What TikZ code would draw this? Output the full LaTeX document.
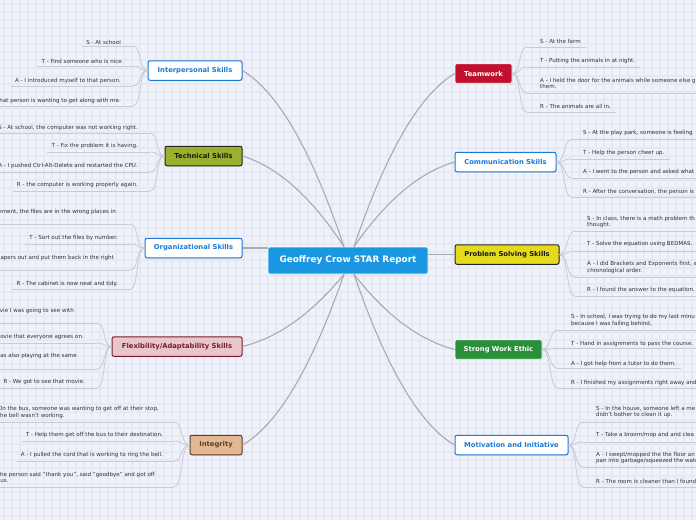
\documentclass[tikz,border=0pt]{standalone}
\usepackage{fontspec}
\setmainfont{DejaVu Sans}
\usetikzlibrary{calc,shadows}
\definecolor{bgc}{HTML}{F0F2F9}
\definecolor{gridc}{HTML}{E6E9F3}
\definecolor{bl}{HTML}{1C7AD6}
\definecolor{cblue}{HTML}{1A96E2}
\definecolor{olive}{HTML}{9CB12B}
\definecolor{pinkf}{HTML}{E8C6CA}
\definecolor{pinkd}{HTML}{7A1C30}
\definecolor{tanf}{HTML}{E3B994}
\definecolor{tand}{HTML}{5A3E2C}
\definecolor{crim}{HTML}{C1102E}
\definecolor{yel}{HTML}{E5DA1E}
\definecolor{grn}{HTML}{2B8F3A}
\definecolor{trunkc}{HTML}{A8AAB4}
\definecolor{twigc}{HTML}{C9CBD3}
\definecolor{leaftxt}{HTML}{333333}
\newcounter{lf}
% left leaf: #1 box, #2 text right x, #3 text centre y, #4 underline y, #5 curve end x, #6 text
\newcommand\leafL[6]{%
  \stepcounter{lf}%
  \node[leaf,anchor=east] (t\thelf) at (#2,#3) {#6};
  \coordinate (u\thelf) at (#5,#4);
  \draw[underl] ($(t\thelf.west |- u\thelf)+(-4,0)$) -- (u\thelf);
  \draw[twig] (u\thelf) .. controls +(9,0) and +(-9,0) .. (#1.west);
}
% right leaf: #1 box, #2 text left x, #3 text centre y, #4 underline y, #5 curve start x, #6 text
\newcommand\leafR[6]{%
  \stepcounter{lf}%
  \node[leaf,anchor=west] (t\thelf) at (#2,#3) {#6};
  \coordinate (u\thelf) at (#5,#4);
  \draw[underl] (u\thelf) -- ($(t\thelf.east |- u\thelf)+(5,0)$);
  \draw[twig] (#1.east) .. controls +(9,0) and +(-9,0) .. (u\thelf);
}
% right leaf cut by the edge
\newcommand\leafRc[6]{%
  \stepcounter{lf}%
  \node[leaf,anchor=west] (t\thelf) at (#2,#3) {#6};
  \coordinate (u\thelf) at (#5,#4);
  \draw[underl] (u\thelf) -- (700,#4);
  \draw[twig] (#1.east) .. controls +(9,0) and +(-9,0) .. (u\thelf);
}
\begin{document}
\begin{tikzpicture}[x=1pt,y=-1pt,
  leaf/.style={inner sep=0pt,align=left,text=leaftxt,font=\fontsize{5.55}{6.7}\selectfont},
  underl/.style={draw=twigc,line width=0.8pt},
  twig/.style={draw=twigc,line width=0.8pt},
  trunk/.style={draw=trunkc,line width=1.1pt},
  box/.style={rounded corners=2pt,minimum height=19.5pt,inner sep=0pt,
    font=\fontsize{6.8}{8}\selectfont\bfseries,
    drop shadow={shadow xshift=0.7pt,shadow yshift=-0.9pt,opacity=0.25}},
  bluebox/.style={box,draw=bl,line width=1pt,fill=white,text=bl},
  techbox/.style={box,draw=black!85,line width=1pt,fill=olive,text=black!90},
  flexbox/.style={box,draw=pinkd,line width=1pt,fill=pinkf,text=pinkd},
  intbox/.style={box,draw=tand,line width=1pt,fill=tanf,text=tand},
  teambox/.style={box,draw=white,line width=0.6pt,fill=crim,text=white},
  psbox/.style={box,draw=black!85,line width=1pt,fill=yel,text=black!90},
  swebox/.style={box,draw=white,line width=0.6pt,fill=grn,text=white},
  centre/.style={rounded corners=2pt,minimum width=160pt,minimum height=27pt,inner sep=0pt,
    fill=cblue,draw=white,line width=0.6pt,text=white,font=\fontsize{8.9}{10}\selectfont\bfseries}
]
\useasboundingbox (0,0) rectangle (696,520);
\clip (0,0) rectangle (696,520);
\fill[bgc] (0,0) rectangle (696,520);
\foreach \g in {4,12,...,700} {
  \draw[gridc,line width=1.4pt] (\g,0) -- (\g,520);
}
\foreach \g in {4,12,...,524} {
  \draw[gridc,line width=1.4pt] (0,\g) -- (696,\g);
}

% central node
\node[centre] (c) at (348,260.5) {Geoffrey Crow STAR Report};
\coordinate (ul) at ($(c.north)+(-4,0)$);
\coordinate (ur) at ($(c.north)+(6,0)$);
\coordinate (ll) at ($(c.south)+(-4,0)$);
\coordinate (lr) at ($(c.south)+(6,0)$);

% branch nodes
\node[bluebox,minimum width=94pt] (ip) at (195,70.5) {Interpersonal Skills};
\node[techbox,minimum width=77pt] (tech) at (203.5,156) {Technical Skills};
\node[bluebox,minimum width=97pt] (org) at (193.5,248) {Organizational Skills};
\node[flexbox,minimum width=130pt] (flex) at (177,346.5) {Flexibility/Adaptability Skills};
\node[intbox,minimum width=52pt] (integ) at (216,445) {Integrity};
\node[teambox,minimum width=57pt] (team) at (483.5,73.5) {Teamwork};
\node[bluebox,minimum width=101pt] (comm) at (505.5,162) {Communication Skills};
\node[psbox,minimum width=104pt] (ps) at (507,254.5) {Problem Solving Skills};
\node[swebox,minimum width=87pt] (swe) at (498.5,349.5) {Strong Work Ethic};
\node[bluebox,minimum width=113pt] (mot) at (511.5,445) {Motivation and Initiative};

% trunk connectors
\draw[trunk] (ul) .. controls +(-31.6,-93.5) and +(36.7,22.2) .. (ip.east);
\draw[trunk] (ul) .. controls +(-31.6,-48.2) and +(36.7,11.5) .. (tech.east);
\draw[trunk] (org.east) -- (org.east -| c.west);
\draw[trunk] (ll) .. controls +(-31.6,38.4) and +(36.7,-9.1) .. (flex.east);
\draw[trunk] (ll) .. controls +(-31.6,90.6) and +(36.7,-21.5) .. (integ.east);
\draw[trunk] (ur) .. controls +(31.3,-92) and +(-36.4,21.9) .. (team.west);
\draw[trunk] (ur) .. controls +(31.3,-45) and +(-36.4,10.7) .. (comm.west);
\draw[trunk] (ps.west -| c.east) -- (ps.west);
\draw[trunk] (lr) .. controls +(31.3,40) and +(-36.4,-9.5) .. (swe.west);
\draw[trunk] (lr) .. controls +(31.3,90.6) and +(-36.4,-21.5) .. (mot.west);

% Interpersonal
\leafL{ip}{121}{42}{46}{133}{S - At school}
\leafL{ip}{122}{61.5}{66}{133}{T - Find someone who is nice}
\leafL{ip}{121}{80.5}{86}{133}{A - I introduced myself to that person.}
\leafL{ip}{121}{100.5}{106}{133}{R - That person is wanting to get along with me.}
% Technical
\leafL{tech}{138}{127.5}{133}{150}{S - At school, the computer was not working right.}
\leafL{tech}{138}{146}{152}{150}{T - Fix the problem it is having.}
\leafL{tech}{138}{166}{172}{150}{A - I pushed Ctrl-Alt-Delete and restarted the CPU.}
\leafL{tech}{138}{185}{191}{150}{R - the computer is working properly again.}
% Organizational
\leafL{org}{116}{212}{224}{130}{ement, the files are in the wrong places in}
\leafL{org}{118}{238}{244}{130}{T - Sort out the files by number.}
\leafL{org}{114}{258}{270}{130}{apers out and put them back in the right}
\leafL{org}{118}{284}{289.5}{130}{R - The cabinet is now neat and tidy.}
% Flexibility
\leafL{flex}{74}{311}{323}{97}{ovie I was going to see with}
\leafL{flex}{84}{337}{343}{97}{movie that everyone agrees on.}
\leafL{flex}{77}{356}{369}{97}{as also playing at the same}
\leafL{flex}{85}{382}{388}{97}{R - We got to see that movie.}
% Integrity
\leafL{integ}{159}{412.5}{422}{174}{On the bus, someone was wanting to get off at their stop,\\the bell wasn't working.}
\leafL{integ}{163}{435}{441}{174}{T - Help them get off the bus to their destination.}
\leafL{integ}{163}{455}{461}{174}{A - I pulled the cord that is working to ring the bell.}
\leafL{integ}{155}{477.5}{487}{174}{The person said "thank you", said "goodbye" and got off\\bus.}

% Teamwork
\leafR{team}{540}{41}{47}{527}{S - At the farm}
\leafR{team}{540}{61}{67}{527}{T - Putting the animals in at night.}
\leafRc{team}{540}{83.3}{93}{527}{A - I held the door for the animals while someone else g\\them.}
\leafR{team}{540}{106}{112}{527}{R - The animals are all in.}
% Communication
\leafRc{comm}{583}{133}{139.5}{572}{S - At the play park, someone is feeling}
\leafR{comm}{583}{153}{159}{572}{T - Help the person cheer up.}
\leafRc{comm}{583}{172}{178}{572}{A - I went to the person and asked what}
\leafRc{comm}{583}{191.5}{197.5}{572}{R - After the conversation, the person is}
% Problem Solving
\leafRc{ps}{587}{222}{231}{575}{S - In class, there is a math problem th\\thought.}
\leafR{ps}{587}{244}{251}{575}{T - Solve the equation using BEDMAS.}
\leafRc{ps}{587}{267.5}{277}{575}{A - I did Brackets and Exponents first, a\\chronological order.}
\leafRc{ps}{587}{290}{296}{575}{R - I found the answer to the equation.}
% Strong Work Ethic
\leafRc{swe}{571}{320.5}{330}{558}{S - In school, I was trying to do my last minu\\because I was failing behind,}
\leafR{swe}{571}{343.5}{348.5}{558}{T - Hand in assignments to pass the course.}
\leafR{swe}{571}{363.5}{368.5}{558}{A - I got help from a tutor to do them.}
\leafRc{swe}{571}{382.5}{388.5}{558}{R - I finished my assignments right away and}
% Motivation
\leafRc{mot}{596}{412}{422}{583}{S - In the house, someone left a me\\didn't bother to clean it up.}
\leafRc{mot}{596}{435}{442}{583}{T - Take a broom/mop and and clea}
\leafRc{mot}{596}{458}{467}{583}{A - I swept/mopped the the floor an\\pan into garbage/squeezed the wate}
\leafRc{mot}{596}{481}{487}{583}{R - The room is cleaner than I found}
\end{tikzpicture}
\end{document}
